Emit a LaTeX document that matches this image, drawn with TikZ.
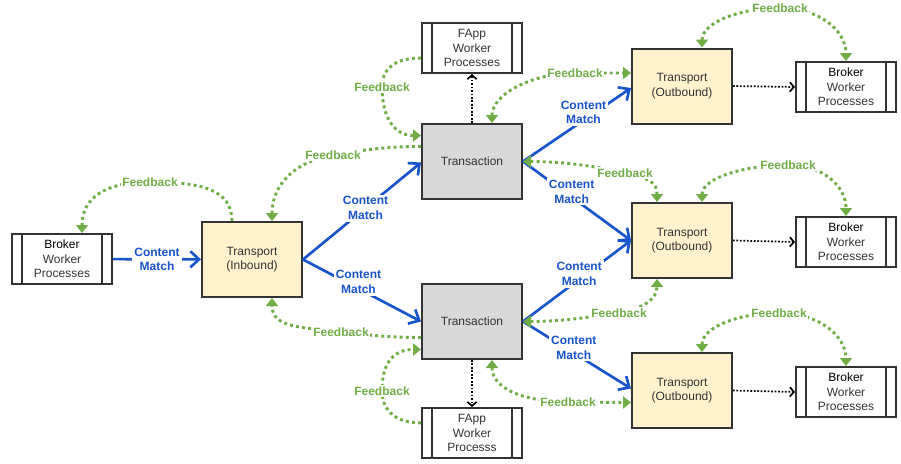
\documentclass[tikz,border=0pt]{standalone}
\usepackage{fontspec}
\setmainfont{Liberation Sans}
\usetikzlibrary{arrows.meta,calc}
\definecolor{bord}{RGB}{51,51,51}
\definecolor{vert}{RGB}{112,173,71}
\definecolor{bleu}{RGB}{24,84,204}
\definecolor{jaune}{RGB}{255,242,204}
\definecolor{gris}{RGB}{217,217,217}
\begin{document}
\begin{tikzpicture}[x=0.75pt,y=-0.75pt]
\tikzset{boite/.style={draw=bord, line width=1.5pt, minimum width=75pt, inner sep=0pt, align=center, text=bord, font=\fontsize{9}{10.8}\selectfont},
transport/.style={boite, fill=jaune, minimum height=56.25pt},
transac/.style={boite, fill=gris, minimum height=56.25pt},
processus/.style={boite, fill=white, minimum height=37.5pt, path picture={\draw[draw=bord, line width=1.5pt] ([xshift=7.5pt]path picture bounding box.north west) -- ([xshift=7.5pt]path picture bounding box.south west) ([xshift=-7.5pt]path picture bounding box.north east) -- ([xshift=-7.5pt]path picture bounding box.south east);}},
retour/.style={draw=vert, line width=2.2pt, dash pattern=on 2.2pt off 2.4pt, -{Triangle[length=6pt,width=9pt]}},
retours/.style={retour, {Triangle[length=6pt,width=9pt]}-{Triangle[length=6pt,width=9pt]}},
flux/.style={draw=bleu, line width=2pt, -{Straight Barb[length=6.5pt,width=12pt]}},
appel/.style={draw=black, line width=1.3pt, dash pattern=on 1.3pt off 1.3pt, -{Straight Barb[length=3pt,width=7pt]}},
etiq/.style={fill=white, inner sep=1pt, text=vert, font=\bfseries\fontsize{9}{10.8}\selectfont},
etiqb/.style={fill=white, inner sep=1.5pt, align=center, text=bleu, font=\bfseries\fontsize{9}{11}\selectfont}}
\useasboundingbox (0,0) rectangle (901,464);
\node[processus] (B0) at (62,259) {{\color{black}Broker}\\Worker\\Processes};
\node[transport] (T0) at (252,259.5) {Transport\\(Inbound)};
\node[transac] (X1) at (472,161.5) {Transaction};
\node[transac] (X2) at (472,321.5) {Transaction};
\node[processus] (F1) at (472,48) {FApp\\Worker\\Processes};
\node[processus] (F2) at (472,433) {FApp\\Worker\\Processs};
\node[transport] (O1) at (682,86) {Transport\\(Outbound)};
\node[transport] (O2) at (682,240.5) {Transport\\(Outbound)};
\node[transport] (O3) at (682,390.5) {Transport\\(Outbound)};
\node[processus] (B1) at (846,87) {{\color{black}Broker}\\Worker\\Processes};
\node[processus] (B2) at (846,242) {{\color{black}Broker}\\Worker\\Processes};
\node[processus] (B3) at (846,392) {{\color{black}Broker}\\Worker\\Processes};
\draw[flux] (B0) -- node[etiqb]{Content\\Match} (T0);
\draw[flux] (T0.east) -- node[etiqb, pos=.53]{Content\\Match} ($(X1.west)+(0,1)$);
\draw[flux] (T0.east) -- node[etiqb, pos=.47, yshift=5pt]{Content\\Match} (X2.west);
\draw[flux] (X1.east) -- node[etiqb, pos=.56, yshift=6pt]{Content\\Match} ($(O1.west)+(0,2)$);
\draw[flux] (X1.east) -- node[etiqb, pos=.45, yshift=4pt]{Content\\Match} (O2.west);
\draw[flux] (X2.east) -- node[etiqb, pos=.52, yshift=4pt]{Content\\Match} (O2.west);
\draw[flux] (X2.east) -- node[etiqb, pos=.47, yshift=4pt]{Content\\Match} ($(O3.west)+(0,-2)$);
\draw[appel] (X1) -- (F1);
\draw[appel] (X2) -- (F2);
\draw[appel] (O1.east) -- (B1.west);
\draw[appel] (O2.east) -- (B2.west);
\draw[appel] (O3.east) -- (B3.west);
\draw[retour] ($(T0.north)+(-20,0)$) .. controls +(0,-32) and +(50,0) .. (150,182) node[etiq]{Feedback} .. controls +(-45,0) and +(0,-35) .. ($(B0.north)+(20,0)$);
\draw[retour] ($(X1.west)+(0,-15)$) .. controls +(-35,0) and +(30,-5) .. (333,155) node[etiq]{Feedback} .. controls +(-40,7) and +(0,-35) .. ($(T0.north)+(20,0)$);
\draw[retour] ($(X2.west)+(0,16)$) .. controls +(-35,0) and +(30,3) .. (341,332) node[etiq]{Feedback} .. controls +(-40,-5) and +(0,30) .. ($(T0.south)+(20,0)$);
\draw[retour] ($(F1.west)+(0,10)$) .. controls +(-30,0) and +(0,-15) .. (382,87) node[etiq]{Feedback} .. controls +(0,25) and +(-30,0) .. ($(X1.west)+(0,-26)$);
\draw[retour] ($(F2.west)+(0,-10)$) .. controls +(-30,0) and +(0,15) .. (382,391) node[etiq]{Feedback} .. controls +(0,-25) and +(-30,0) .. ($(X2.west)+(0,28)$);
\draw[retours] ($(X1.north)+(20,0)$) .. controls +(0,-30) and +(-40,0) .. (575,73) node[etiq]{Feedback} .. controls +(25,0) and +(-15,0) .. ($(O1.west)+(0,-13)$);
\draw[retours] (X1.east) .. controls +(40,0) and +(-30,-7) .. (625,173) node[etiq]{Feedback} .. controls +(25,6) and +(0,-20) .. ($(O2.north)+(-25,0)$);
\draw[retours] (X2.east) .. controls +(40,0) and +(-30,4) .. (619,313) node[etiq]{Feedback} .. controls +(25,-5) and +(0,20) .. ($(O2.south)+(-25,0)$);
\draw[retours] ($(X2.south)+(20,0)$) .. controls +(0,30) and +(-40,0) .. (568,402) node[etiq]{Feedback} .. controls +(25,0) and +(-15,0) .. ($(O3.west)+(0,12)$);
\draw[retours] ($(O1.north)+(20,0)$) .. controls +(0,-25) and +(-40,0) .. (780,8) node[etiq]{Feedback} .. controls +(40,0) and +(0,-30) .. (B1.north);
\draw[retours] ($(O2.north)+(20,0)$) .. controls +(0,-25) and +(-40,0) .. (788,165) node[etiq]{Feedback} .. controls +(35,0) and +(0,-30) .. (B2.north);
\draw[retours] ($(O3.north)+(20,0)$) .. controls +(0,-25) and +(-40,0) .. (779,313) node[etiq]{Feedback} .. controls +(40,0) and +(0,-30) .. (B3.north);
\end{tikzpicture}
\end{document}
